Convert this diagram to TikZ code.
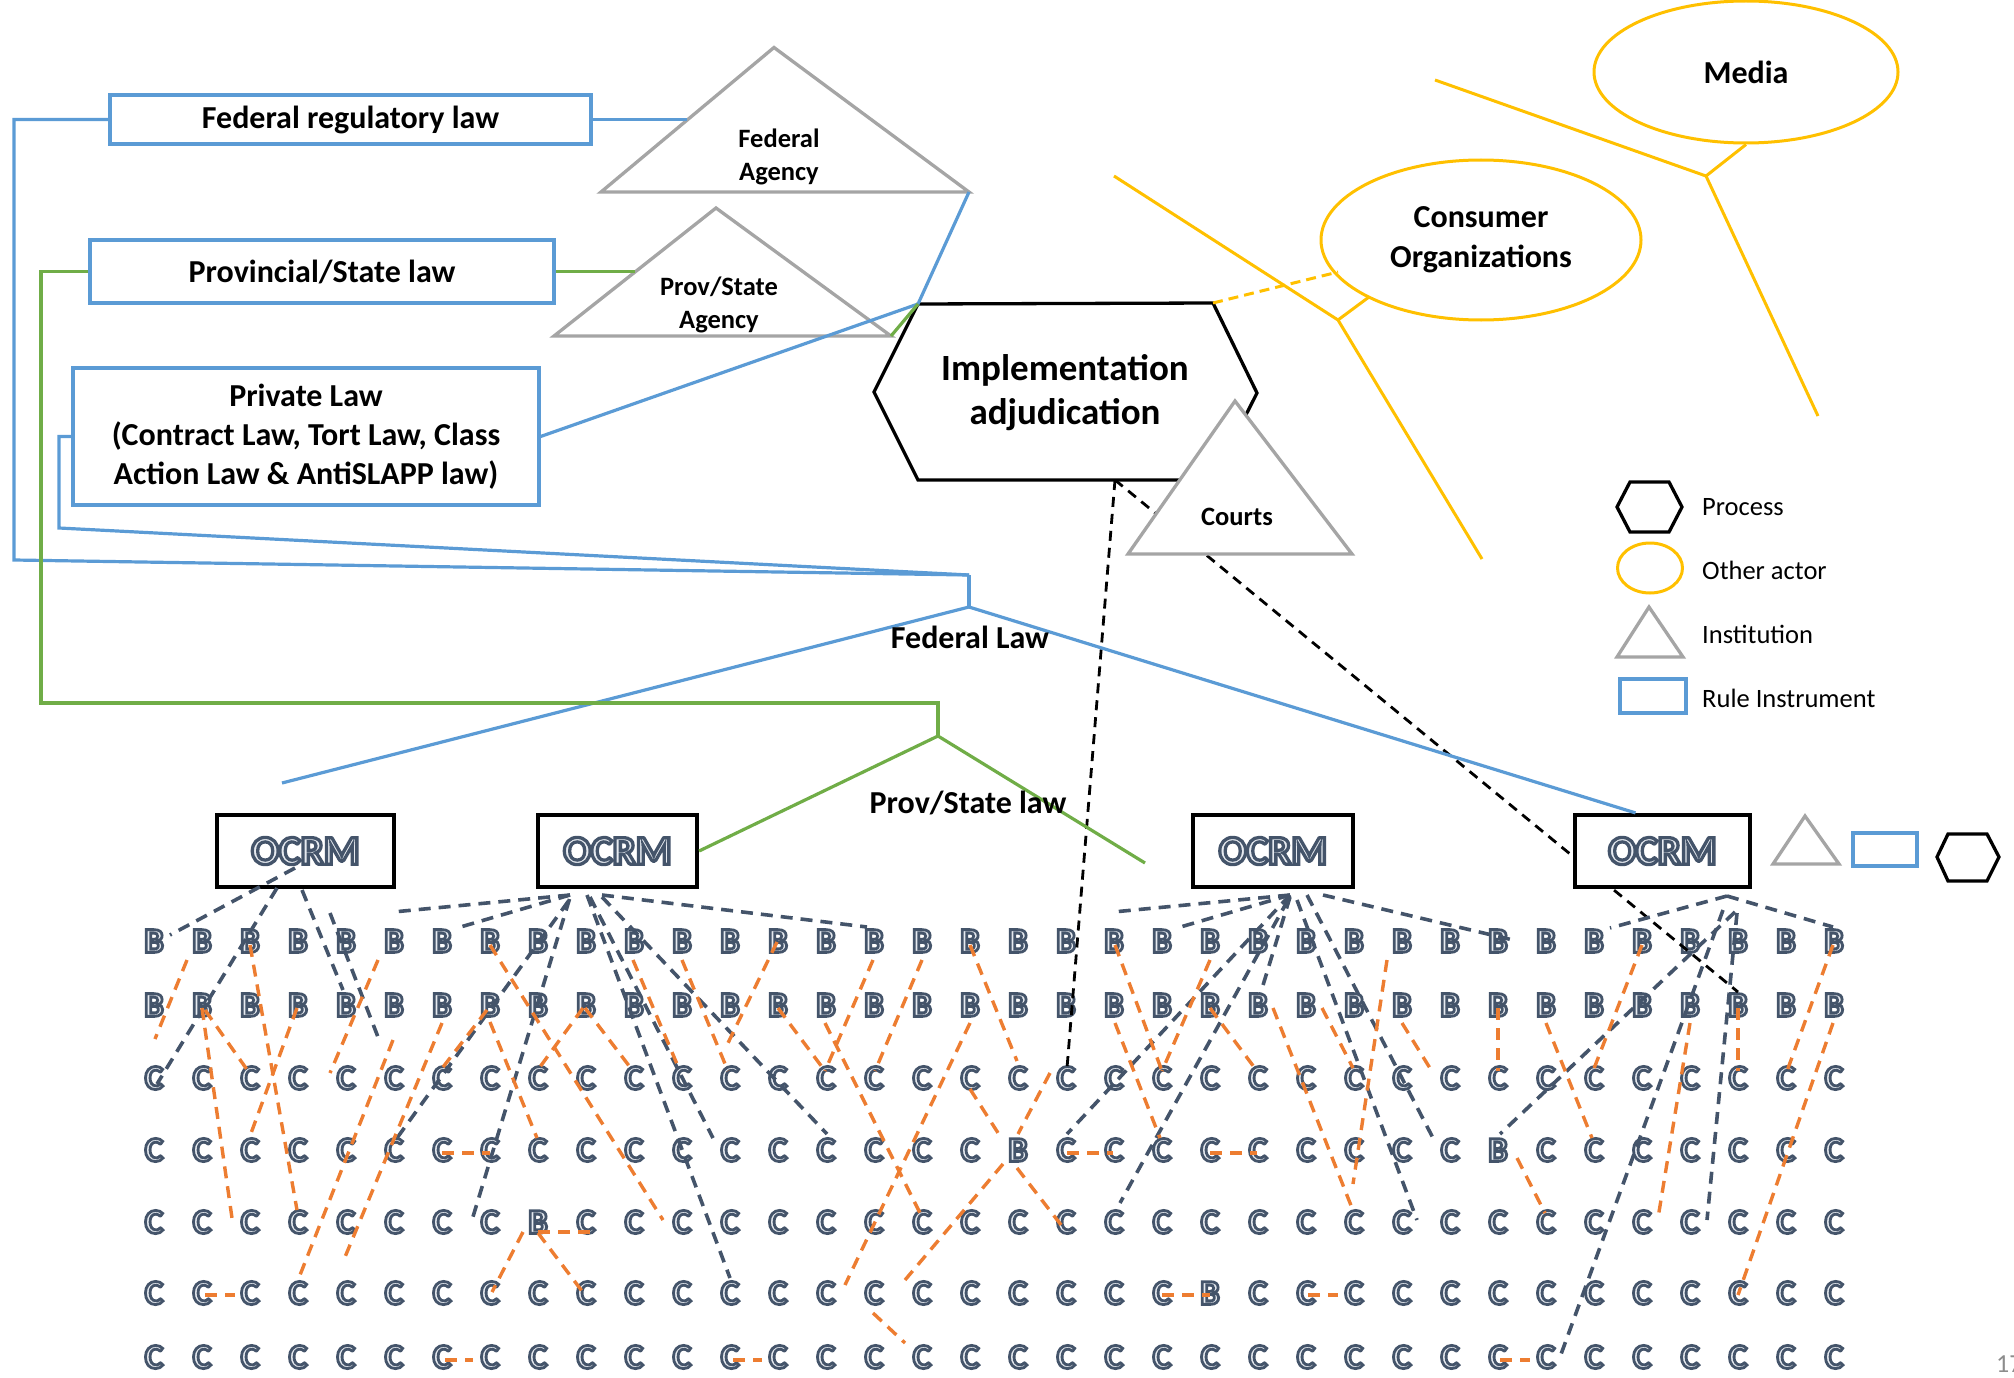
\documentclass[tikz,border=0pt]{standalone}
\usepackage{fontspec}
\setmainfont{Carlito}
\newfontfamily\olfont[FakeBold=8]{Carlito Bold}
\usetikzlibrary{shapes.geometric}
\definecolor{rblue}{HTML}{5B9BD5}
\definecolor{rgreen}{HTML}{70AD47}
\definecolor{igray}{HTML}{A5A5A5}
\definecolor{ayel}{HTML}{FFC000}
\definecolor{lorange}{HTML}{ED7D31}
\definecolor{ocdark}{HTML}{44546A}
\definecolor{letfill}{HTML}{E6EAF0}
\definecolor{pgnum}{HTML}{8C8C8C}
\newcommand\oltxt[1]{{\olfont\color{letfill}\special{pdf:literal direct 0.267 0.329 0.416 RG}#1}}
\newcommand\gline[5]{\draw[#1] ([shift={#3}]#2.center) -- ([shift={#5}]#4.center);}
\tikzset{
  rulebox/.style={draw=rblue, line width=3.2pt, fill=white, inner sep=0pt, align=center,
    font=\bfseries\fontsize{32}{39}\selectfont},
  ruleline/.style={draw=rblue, line width=3.2pt},
  provline/.style={draw=rgreen, line width=3.2pt},
  instshape/.style={draw=igray, line width=3.3pt, fill=white, line join=miter},
  procshape/.style={draw=black, line width=3.3pt, fill=white},
  actorshape/.style={ellipse, draw=ayel, line width=3pt, inner sep=0pt, align=center,
    font=\bfseries\fontsize{32}{40}\selectfont},
  actorline/.style={draw=ayel, line width=3pt},
  ocrmbox/.style={draw=black, line width=4.2pt, fill=white, inner sep=0pt,
    font=\fontsize{41}{41}\selectfont},
  gridl/.style={inner sep=0pt, font=\fontsize{35}{35}\selectfont},
  db/.style={draw=ocdark, line width=3.6pt, dash pattern=on 12pt off 8pt},
  or/.style={draw=lorange, line width=3.4pt, dash pattern=on 12pt off 8pt},
  blk/.style={draw=black, line width=2.8pt, dash pattern=on 10pt off 7pt},
  lbl/.style={inner sep=0pt, align=center, font=\bfseries\fontsize{32}{39}\selectfont},
  instlbl/.style={inner sep=0pt, align=center, font=\bfseries\fontsize{26.5}{33}\selectfont},
  leglbl/.style={inner sep=0pt, anchor=west, font=\fontsize{26.5}{30}\selectfont},
}
\begin{document}
\begin{tikzpicture}[x=1pt,y=-1pt]
\useasboundingbox (0,0) rectangle (2014,1378);

% ---------- grid of B / C letters ----------
\foreach \r/\yy in {0/941,1/1005,2/1078,3/1150,4/1222,5/1293,6/1357}{
  \foreach \c in {0,...,35}{
    \pgfmathtruncatemacro\isB{(\r<2) || (\r==3 && (\c==18 || \c==28)) || (\r==4 && \c==8) || (\r==5 && \c==22)}
    \ifnum\isB=1 \def\L{B}\else\def\L{C}\fi
    \node[gridl] (n-\r-\c) at ({154+48*\c},\yy) {\oltxt{\L}};
  }
}

% ---------- black dashed links from the adjudication hexagon ----------
\coordinate (hexb) at (1115,480);
\draw[blk] (hexb) -- ([shift={(1,-10)}]n-2-19.center);
\draw[blk] (hexb) -- ([shift={(0,-13)}]n-1-33.center);

% ---------- institutions (triangles) ----------
\draw[instshape] (601,192) coordinate (fa-bl) -- (774,47.5) -- (969,192) coordinate (fa-br) -- cycle;
\draw[instshape] (554,336) -- (716,208) -- (891,336) coordinate (pa-br) -- cycle;

% ---------- process hexagon ----------
\draw[procshape] (874,392) -- (918,304) coordinate (hx-tl) -- (1213,303) coordinate (hx-tr) -- (1257,393) -- (1213,480) -- (918,480) -- cycle;
\node[lbl, font=\bfseries\fontsize{37}{44}\selectfont] (impl) at (1065,393) {Implementation\\adjudication};

\draw[instshape] (1128,554) -- (1235,401) -- (1352,554) -- cycle;
\node[instlbl] (fedag) at (779,157) {Federal\\Agency};
\node[instlbl] (provag) at (719,305) {Prov/State\\Agency};
\node[instlbl] (courts) at (1237,517) {Courts};

% ---------- rule instruments ----------
\node[rulebox, minimum width=481pt, minimum height=49pt] (frl) at (350.5,119.5) {Federal regulatory law};
\node[rulebox, minimum width=464pt, minimum height=63pt] (psl) at (322,271.5) {Provincial/State law};
\node[rulebox, minimum width=466pt, minimum height=137pt] (pvl) at (306,436.5) {Private Law\\(Contract Law, Tort Law, Class\\Action Law \& AntiSLAPP law)};

% ---------- OCRM boxes ----------
\node[ocrmbox, minimum width=177pt, minimum height=72pt] (ocrm1) at (305.5,851) {\oltxt{OCRM}};
\node[ocrmbox, minimum width=159pt, minimum height=72pt] (ocrm2) at (617.5,851) {\oltxt{OCRM}};
\node[ocrmbox, minimum width=160pt, minimum height=72pt] (ocrm3) at (1273,851) {\oltxt{OCRM}};
\node[ocrmbox, minimum width=175pt, minimum height=72pt] (ocrm4) at (1662.5,851) {\oltxt{OCRM}};

% ---------- blue federal connectors ----------
\coordinate (fa-l) at (687,119.5);
\coordinate (fedj) at (969,575);
\coordinate (fedb) at (969,607);
\coordinate (fedl) at (282,783);
\draw[ruleline] (frl.east) -- (fa-l);
\draw[ruleline, line join=miter] (frl.west) -- (14,119.5) -- (14,560) -- (fedj);
\draw[ruleline, line join=miter] (pvl.west) -- (59,436.5) -- (59,528) -- (fedj);
\draw[ruleline] (fedj) -- (fedb);
\draw[ruleline] (fedb) -- (fedl);
\draw[ruleline] (fedb) -- ([xshift=-27pt]ocrm4.north);
\draw[ruleline] (fa-br) -- (hx-tl) -- (pvl.east);

% ---------- green provincial connectors ----------
\coordinate (pa-l) at (635,271.5);
\coordinate (provj) at (938,703);
\coordinate (provb) at (938,736);
\coordinate (provr) at (1145,863);
\draw[provline] (psl.east) -- (pa-l);
\draw[provline, line join=miter] (psl.west) -- (41,271.5) -- (41,703) -- (provj) -- (provb);
\draw[provline] (provb) -- (ocrm2.east);
\draw[provline] (provb) -- (provr);
\draw[provline] (pa-br) -- (hx-tl);

\node[lbl] (fedlaw) at (970,637) {Federal Law};
\node[lbl] (provlaw) at (968,803) {Prov/State law};

% ---------- other actors ----------
\node[actorshape, minimum width=304pt, minimum height=142pt] (media) at (1746,72) {Media};
\node[actorshape, minimum width=320pt, minimum height=160pt] (cons) at (1481,240) {Consumer\\Organizations};
\coordinate (my1) at (1435,80);
\coordinate (myj) at (1706,176);
\coordinate (my2) at (1818,416);
\coordinate (cy1) at (1114,176);
\coordinate (cyj) at (1338,320);
\coordinate (cy2) at (1482,559);
\coordinate (cyt) at (1369,297);
\coordinate (cyd) at (1338,272);
\draw[actorline] (my1) -- (myj) -- (my2);
\draw[actorline] (myj) -- (media.south);
\draw[actorline] (cy1) -- (cyj) -- (cy2);
\draw[actorline] (cyj) -- (cyt);
\draw[actorline, dash pattern=on 10pt off 6pt] (hx-tr) -- (cyd);

% ---------- legend ----------
\draw[procshape] (1617,507) -- (1630,482) -- (1669,482) -- (1682,507) -- (1669,532) -- (1630,532) -- cycle;
\node[ellipse, draw=ayel, line width=3pt, minimum width=65pt, minimum height=50pt, inner sep=0pt] (legact) at (1650,568) {};
\draw[instshape] (1617,657) -- (1649,607) -- (1683,657) -- cycle;
\node[draw=rblue, line width=3.2pt, minimum width=66pt, minimum height=34pt, inner sep=0pt] (legrule) at (1653,696) {};
\node[leglbl] (lp) at (1702,507) {Process};
\node[leglbl] (lo) at (1702,570) {Other actor};
\node[leglbl] (li) at (1702,634) {Institution};
\node[leglbl] (lr) at (1702,698) {Rule Instrument};

% small shapes next to the last OCRM
\draw[instshape] (1773,864) -- (1805,816) -- (1839,864) -- cycle;
\node[draw=rblue, line width=3.2pt, minimum width=64pt, minimum height=33pt, inner sep=0pt] (smrule) at (1885,849.5) {};
\draw[procshape] (1937,857) -- (1948,834) -- (1987,834) -- (1999,857) -- (1987,881) -- (1948,881) -- cycle;

% ---------- dark dashed OCRM links ----------
\gline{db}{ocrm1}{(-10.5,17)}{n-0-0}{(16,-6)}
\gline{db}{ocrm1}{(-28.5,37)}{n-2-0}{(3,6)}
\gline{db}{ocrm1}{(-3.5,39)}{n-1-4}{(-3,-15)}
\gline{db}{n-0-3}{(32,-28)}{n-1-4}{(32,32)}
\gline{db}{ocrm2}{(-47.5,44)}{n-0-5}{(-1,-29)}
\gline{db}{ocrm2}{(-47.5,44)}{n-0-6}{(15,-13)}
\gline{db}{ocrm2}{(-49,50)}{n-3-5}{(3,-12)}
\gline{db}{ocrm2}{(-48,48)}{n-4-7}{(-18,-2)}
\gline{db}{ocrm2}{(-15.5,44)}{n-0-15}{(-7,-14)}
\gline{db}{ocrm2}{(-15.5,46)}{n-3-14}{(1,-16)}
\gline{db}{ocrm2}{(-30.5,44)}{n-5-12}{(0,-15)}
\gline{db}{ocrm2}{(-27.5,46)}{n-3-12}{(-17,-12)}
\gline{db}{ocrm3}{(17,44)}{n-0-20}{(-1,-29)}
\gline{db}{ocrm3}{(17,44)}{n-0-21}{(15,-13)}
\gline{db}{ocrm3}{(17,44)}{n-3-19}{(1,-16)}
\gline{db}{ocrm3}{(15,49)}{n-4-20}{(6,-19)}
\gline{db}{ocrm3}{(17,46)}{n-1-23}{(2,-10)}
\gline{db}{ocrm3}{(34,44)}{n-3-27}{(-17,-12)}
\gline{db}{ocrm3}{(24,49)}{n-4-26}{(15,-2)}
\gline{db}{ocrm3}{(50,44)}{n-0-28}{(15,-1)}
\gline{db}{ocrm4}{(64.5,45)}{n-0-30}{(16,-13)}
\gline{db}{ocrm4}{(64.5,45)}{n-0-35}{(-1,-14)}
\gline{db}{ocrm4}{(72.5,61)}{n-3-28}{(2,-16)}
\gline{db}{ocrm4}{(60.5,59)}{n-6-29}{(14,0)}
\gline{db}{ocrm4}{(74.5,62)}{n-4-32}{(17,-2)}

% ---------- orange dashed links ----------
\gline{or}{n-0-1}{(-15,19)}{n-2-0}{(1,-39)}
\gline{or}{n-0-2}{(0,4)}{n-4-3}{(-1,-12)}
\gline{or}{n-1-1}{(0,3)}{n-4-2}{(-18,-4)}
\gline{or}{n-1-1}{(3,5)}{n-2-2}{(-2,-7)}
\gline{or}{n-1-3}{(-1,3)}{n-3-2}{(0,-14)}
\gline{or}{n-0-5}{(-16,19)}{n-2-4}{(-16,-5)}
\gline{or}{n-1-5}{(-1,35)}{n-5-3}{(2,-18)}
\gline{or}{n-1-6}{(0,18)}{n-5-4}{(-1,-36)}
\gline{or}{n-0-7}{(0,4)}{n-4-11}{(-19,-2)}
\gline{or}{n-1-7}{(-3,5)}{n-2-6}{(-2,-7)}
\gline{or}{n-1-7}{(0,17)}{n-3-8}{(-1,-12)}
\gline{or}{n-3-6}{(0,3)}{n-3-7}{(0,3)}
\gline{or}{n-1-9}{(-3,3)}{n-2-8}{(-1,-7)}
\gline{or}{n-1-9}{(-1,3)}{n-2-10}{(-1,-7)}
\gline{or}{n-4-8}{(-15,10)}{n-5-7}{(2,-1)}
\gline{or}{n-4-8}{(0,10)}{n-4-9}{(4,10)}
\gline{or}{n-4-8}{(0,11)}{n-5-9}{(-1,2)}
\gline{or}{n-5-1}{(3,2)}{n-5-2}{(-15,2)}
\gline{or}{n-6-6}{(3,3)}{n-6-7}{(-17,3)}
\gline{or}{n-0-10}{(-1,19)}{n-2-11}{(-5,-14)}
\gline{or}{n-0-11}{(0,19)}{n-2-12}{(-2,-7)}
\gline{or}{n-0-13}{(-1,1)}{n-2-12}{(-2,-35)}
\gline{or}{n-1-13}{(0,3)}{n-2-14}{(-1,-7)}
\gline{or}{n-1-14}{(-1,18)}{n-4-16}{(-2,-9)}
\gline{or}{n-0-15}{(-1,19)}{n-2-14}{(-1,-7)}
\gline{or}{n-0-16}{(0,19)}{n-2-15}{(1,-7)}
\gline{or}{n-1-17}{(0,18)}{n-5-14}{(19,-8)}
\gline{or}{n-0-17}{(0,4)}{n-2-18}{(-1,-17)}
\gline{or}{n-2-17}{(0,11)}{n-3-18}{(-18,-14)}
\gline{or}{n-2-19}{(-16,-5)}{n-3-18}{(0,-16)}
\gline{or}{n-3-18}{(-15,14)}{n-5-16}{(-17,-13)}
\gline{or}{n-3-18}{(-1,18)}{n-4-19}{(-1,8)}
\gline{or}{n-5-15}{(-1,20)}{n-6-16}{(-17,-14)}
\gline{or}{n-6-12}{(3,3)}{n-6-13}{(-16,3)}
\gline{or}{n-0-20}{(1,4)}{n-2-21}{(0,-7)}
\gline{or}{n-0-22}{(0,19)}{n-2-21}{(0,-7)}
\gline{or}{n-1-20}{(1,18)}{n-3-21}{(-2,-12)}
\gline{or}{n-1-22}{(0,3)}{n-2-23}{(-1,-7)}
\gline{or}{n-1-23}{(15,3)}{n-4-25}{(-2,-14)}
\gline{or}{n-1-24}{(16,3)}{n-2-25}{(-1,-10)}
\gline{or}{n-0-26}{(-15,19)}{n-3-25}{(-1,34)}
\gline{or}{n-1-26}{(0,18)}{n-2-27}{(-17,-5)}
\gline{or}{n-3-19}{(1,3)}{n-3-20}{(-1,3)}
\gline{or}{n-3-22}{(0,3)}{n-3-23}{(-1,3)}
\gline{or}{n-5-21}{(0,2)}{n-5-22}{(0,2)}
\gline{or}{n-5-24}{(2,2)}{n-5-25}{(-16,2)}
\gline{or}{n-1-28}{(0,3)}{n-2-28}{(0,-7)}
\gline{or}{n-1-29}{(0,18)}{n-3-30}{(-2,-12)}
\gline{or}{n-0-31}{(0,4)}{n-2-30}{(-1,-7)}
\gline{or}{n-3-28}{(19,8)}{n-4-29}{(-1,-9)}
\gline{or}{n-1-32}{(0,18)}{n-4-31}{(16,-4)}
\gline{or}{n-1-33}{(0,3)}{n-2-33}{(0,-7)}
\gline{or}{n-0-35}{(-1,4)}{n-2-34}{(1,-7)}
\gline{or}{n-1-35}{(-1,18)}{n-5-33}{(0,2)}
\gline{or}{n-6-28}{(2,3)}{n-6-29}{(-16,3)}

% page number
\node[anchor=base west, inner sep=0pt, text=pgnum, font=\fontsize{26}{26}\selectfont] (pg) at (1996,1372) {17};
\end{tikzpicture}
\end{document}
